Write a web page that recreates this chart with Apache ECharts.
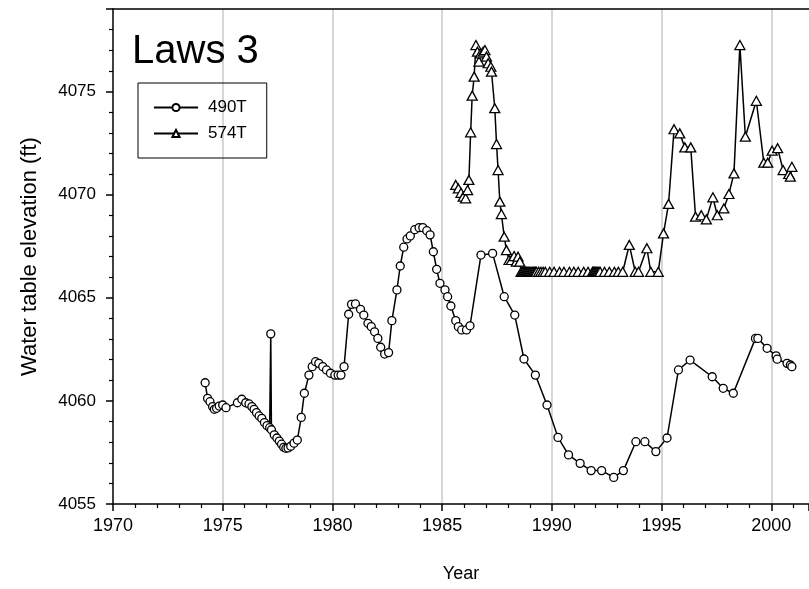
<!DOCTYPE html>
<html>
<head>
<meta charset="utf-8">
<script src="https://cdn.jsdelivr.net/npm/echarts@6/dist/echarts.min.js"></script>
<style>
  html, body { margin: 0; padding: 0; background: #fff; }
  #chart { width: 809px; height: 589px; }
</style>
</head>
<body>
<div id="chart"></div>
<script>
// well 490T
var years490 = [1974.20, 1974.31, 1974.42, 1974.54, 1974.62, 1974.72, 1974.84, 1975.00, 1975.15, 1975.67,
  1975.87, 1976.05, 1976.20, 1976.33, 1976.43, 1976.54, 1976.66, 1976.78, 1976.90, 1977.02,
  1977.14, 1977.19, 1977.22, 1977.35, 1977.47, 1977.58, 1977.68, 1977.78, 1977.88, 1977.98,
  1978.10, 1978.25, 1978.40, 1978.58, 1978.72, 1978.93, 1979.08, 1979.23, 1979.38, 1979.56,
  1979.73, 1979.91, 1980.11, 1980.26, 1980.39, 1980.53, 1980.74, 1980.87, 1981.05, 1981.28,
  1981.43, 1981.62, 1981.77, 1981.92, 1982.07, 1982.20, 1982.38, 1982.56, 1982.71, 1982.94,
  1983.09, 1983.25, 1983.40, 1983.55, 1983.75, 1983.95, 1984.12, 1984.30, 1984.45, 1984.60,
  1984.75, 1984.90, 1985.13, 1985.25, 1985.40, 1985.62, 1985.74, 1985.89, 1986.11, 1986.27,
  1986.77, 1987.30, 1987.83, 1988.31, 1988.73, 1989.25, 1989.78, 1990.28, 1990.76, 1991.29,
  1991.79, 1992.27, 1992.82, 1993.26, 1993.83, 1994.24, 1994.74, 1995.25, 1995.77, 1996.30,
  1997.31, 1997.81, 1998.27, 1999.28, 1999.39, 1999.81, 2000.22, 2000.27, 2000.72, 2000.87,
  2000.94];
var elev490 = [4060.88, 4060.12, 4059.96, 4059.72, 4059.59, 4059.64, 4059.75, 4059.80, 4059.67, 4059.91,
  4060.08, 4059.91, 4059.85, 4059.72, 4059.59, 4059.43, 4059.27, 4059.15, 4058.95, 4058.80,
  4058.70, 4063.25, 4058.60, 4058.35, 4058.20, 4058.05, 4057.90, 4057.75, 4057.70, 4057.72,
  4057.80, 4057.95, 4058.10, 4059.20, 4060.37, 4061.25, 4061.66, 4061.90, 4061.82, 4061.66,
  4061.50, 4061.34, 4061.25, 4061.25, 4061.25, 4061.66, 4064.20, 4064.68, 4064.70, 4064.44,
  4064.16, 4063.76, 4063.60, 4063.35, 4063.03, 4062.60, 4062.27, 4062.34, 4063.89, 4065.38,
  4066.54, 4067.45, 4067.85, 4068.00, 4068.30, 4068.40, 4068.40, 4068.25, 4068.05, 4067.23,
  4066.38, 4065.70, 4065.38, 4065.05, 4064.60, 4063.89, 4063.60, 4063.44, 4063.44, 4063.64,
  4067.07, 4067.15, 4065.05, 4064.16, 4062.03, 4061.25, 4059.80, 4058.23, 4057.38, 4056.97,
  4056.62, 4056.62, 4056.29, 4056.62, 4058.02, 4058.02, 4057.54, 4058.20, 4061.50, 4061.98,
  4061.17, 4060.61, 4060.37, 4063.03, 4063.03, 4062.55, 4062.18, 4062.02, 4061.82, 4061.74,
  4061.66];

// well 574T (flat stretch = dry, plotted at the well bottom)
var years574 = [1985.62, 1985.74, 1985.86, 1985.96, 1986.07, 1986.16, 1986.22, 1986.30, 1986.37, 1986.46,
  1986.54, 1986.61, 1986.68, 1986.75, 1986.87, 1986.95, 1987.02, 1987.10, 1987.22, 1987.25,
  1987.40, 1987.48, 1987.55, 1987.63, 1987.70, 1987.83, 1987.93, 1988.05, 1988.16, 1988.28,
  1988.38, 1988.46, 1988.54,
  1988.60, 1988.65, 1988.70, 1988.75, 1988.80, 1988.85, 1988.90, 1988.95, 1989.00, 1989.05,
  1989.10, 1989.15, 1989.20, 1989.25, 1989.30, 1989.40, 1989.50, 1989.60, 1989.70, 1989.90,
  1990.10, 1990.35, 1990.55, 1990.80, 1991.00, 1991.20, 1991.45, 1991.65, 1991.85, 1991.90,
  1991.95, 1992.00, 1992.05, 1992.10, 1992.15, 1992.20, 1992.40, 1992.62, 1992.85, 1993.03,
  1993.23, 1993.53, 1993.80, 1993.95, 1994.33, 1994.51, 1994.85, 1995.09, 1995.32, 1995.57,
  1995.83, 1996.06, 1996.33, 1996.55, 1996.81, 1997.04, 1997.34, 1997.54, 1997.84, 1998.07,
  1998.30, 1998.57, 1998.82, 1999.32, 1999.66, 1999.84, 2000.04, 2000.29, 2000.54, 2000.80,
  2000.87, 2000.94];
var elev574 = [4070.47, 4070.30, 4070.09, 4069.90, 4069.82, 4070.22, 4070.71, 4073.02, 4074.80, 4075.72,
  4077.25, 4076.93, 4076.45, 4076.85, 4076.93, 4077.01, 4076.69, 4076.37, 4076.20, 4075.96,
  4074.19, 4072.45, 4071.19, 4069.66, 4069.06, 4067.96, 4067.31, 4066.83, 4066.83, 4067.02,
  4066.75, 4066.99, 4066.75,
  4066.26, 4066.26, 4066.26, 4066.26, 4066.26, 4066.26, 4066.26, 4066.26, 4066.26, 4066.26,
  4066.26, 4066.26, 4066.26, 4066.26, 4066.26, 4066.26, 4066.26, 4066.26, 4066.26, 4066.26,
  4066.26, 4066.26, 4066.26, 4066.26, 4066.26, 4066.26, 4066.26, 4066.26, 4066.26, 4066.26,
  4066.26, 4066.26, 4066.26, 4066.26, 4066.26, 4066.26, 4066.26, 4066.26, 4066.26, 4066.26,
  4066.26, 4067.56, 4066.26, 4066.26, 4067.40, 4066.26, 4066.26, 4068.12, 4069.55, 4073.17,
  4072.97, 4072.29, 4072.29, 4068.93, 4069.00, 4068.80, 4069.87, 4069.00, 4069.33, 4070.03,
  4071.03, 4077.25, 4072.81, 4074.55, 4071.55, 4071.55, 4072.13, 4072.25, 4071.19, 4071.00,
  4070.87, 4071.35];

var seriesNames = ["490T", "574T"];
var dryLabel = { text: "DRY", year: 1991.0, elev: 4067.0 };
var xTicks = { min: 1970, max: 2001.72, step: 5 };
var yTicks = { min: 4055, max: 4079, step: 5 };

function pairs(xs, ys) {
  var out = [];
  for (var i = 0; i < xs.length; i++) out.push([xs[i], ys[i]]);
  return out;
}

var font = "Liberation Sans, Arial, sans-serif";
var myChart = echarts.init(document.getElementById("chart"), null, { renderer: "canvas" });

myChart.setOption({
  animation: false,
  backgroundColor: "#fff",
  textStyle: { fontFamily: font },
  title: {
    text: "Laws 3",
    left: 127,
    top: 27,
    textStyle: { fontFamily: font, fontSize: 40, fontWeight: "normal", color: "#000" }
  },
  legend: {
    data: seriesNames,
    orient: "vertical",
    left: 138,
    top: 83,
    padding: [16, 20, 16, 15],
    itemGap: 9,
    itemWidth: 44,
    itemHeight: 9,
    borderColor: "#000",
    borderWidth: 1,
    textStyle: { fontFamily: font, fontSize: 17, color: "#000", padding: [0, 0, 0, 5] }
  },
  grid: { left: 113, top: 9, right: -3, bottom: 85 },
  xAxis: [
    {
      type: "value",
      min: xTicks.min,
      max: xTicks.max,
      interval: xTicks.step,
      name: "Year",
      nameLocation: "middle",
      nameGap: 61,
      nameTextStyle: { fontFamily: font, fontSize: 18, color: "#000" },
      axisLine: { show: true, onZero: false, lineStyle: { color: "#000", width: 1.5 } },
      axisTick: { show: true, inside: false, length: 7, lineStyle: { color: "#000", width: 1.5 } },
      minorTick: { show: true, splitNumber: 5, length: 4, lineStyle: { color: "#000", width: 1.2 } },
      axisLabel: {
        margin: 13,
        fontSize: 18,
        color: "#000",
        showMaxLabel: false,
        formatter: function (v) { return v % 5 === 0 ? String(v) : ""; }
      },
      splitLine: { show: true, showMinLine: false, showMaxLine: false, lineStyle: { color: "#c8c8c8", width: 1.5 } }
    },
    {
      type: "value",
      position: "top",
      min: xTicks.min,
      max: xTicks.max,
      axisLine: { show: true, onZero: false, lineStyle: { color: "#000", width: 1.5 } },
      axisTick: { show: false },
      axisLabel: { show: false },
      splitLine: { show: false }
    }
  ],
  yAxis: {
    type: "value",
    min: yTicks.min,
    max: yTicks.max,
    interval: yTicks.step,
    name: "Water table elevation (ft)",
    nameLocation: "middle",
    nameGap: 72,
    nameTextStyle: { fontFamily: font, fontSize: 22, color: "#000" },
    axisLine: { show: true, onZero: false, lineStyle: { color: "#000", width: 1.5 } },
    axisTick: { show: true, inside: false, length: 7, lineStyle: { color: "#000", width: 1.5 } },
    minorTick: { show: true, splitNumber: 5, length: 4, lineStyle: { color: "#000", width: 1.2 } },
    axisLabel: {
      margin: 17,
      fontSize: 17,
      color: "#000",
      showMaxLabel: false,
      formatter: function (v) { return v % 5 === 0 ? String(v) : ""; }
    },
    splitLine: { show: false }
  },
  series: [
    {
      name: seriesNames[0],
      type: "line",
      data: pairs(years490, elev490),
      symbol: "circle",
      symbolSize: 8,
      color: "#000",
      lineStyle: { color: "#000", width: 1.5 },
      itemStyle: { color: "#fff", borderColor: "#000", borderWidth: 1.3 },
      z: 3
    },
    {
      name: seriesNames[1],
      type: "line",
      data: pairs(years574, elev574),
      symbol: "triangle",
      symbolSize: [10, 9],
      color: "#000",
      lineStyle: { color: "#000", width: 1.5 },
      itemStyle: { color: "#fff", borderColor: "#000", borderWidth: 1.3 },
      markPoint: {
        symbol: "none",
        data: [{ coord: [dryLabel.year, dryLabel.elev], value: dryLabel.text }],
        label: {
          show: true,
          position: "inside",
          formatter: dryLabel.text,
          fontFamily: font,
          fontSize: 17,
          color: "#000"
        }
      },
      z: 4
    }
  ]
});
</script>
</body>
</html>
